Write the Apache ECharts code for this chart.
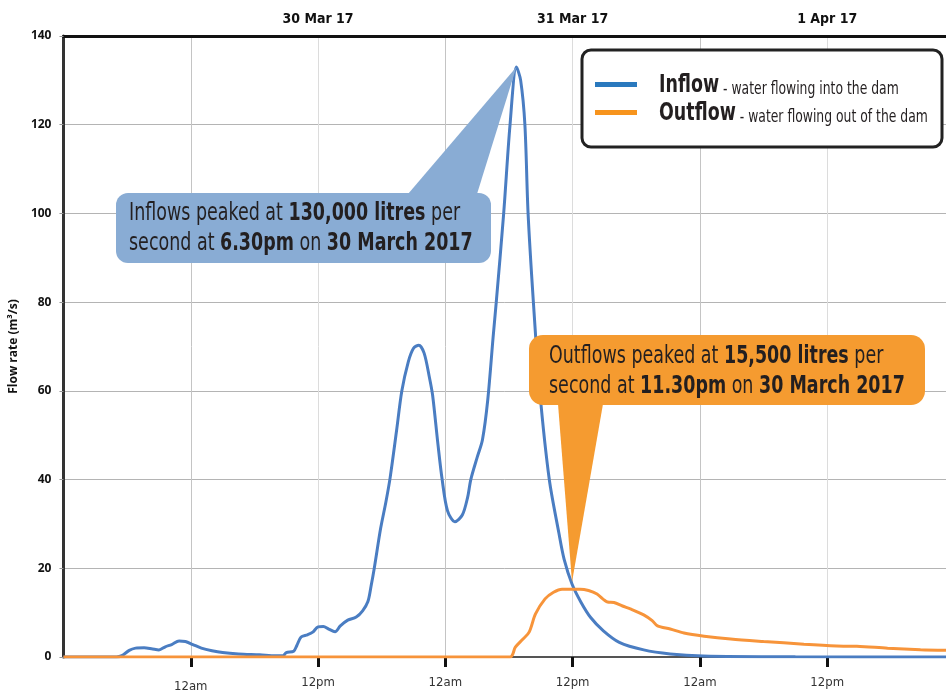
<!DOCTYPE html>
<html><head><meta charset="utf-8">
<script src="https://cdn.jsdelivr.net/npm/echarts@6/dist/echarts.min.js"></script>
<style>html,body{margin:0;padding:0;background:#fff}#c{width:946px;height:693px}</style>
</head><body><div id="c"></div>
<script>
// hours from 12pm 28 Mar (left edge of the chart)
const inflowHours = [0,5.0,5.5,6.2,6.8,7.6,8.4,9.0,9.6,10.2,10.9,11.5,12.2,13.0,14.0,15.0,16.5,18.5,20.0,20.7,21.0,21.7,22.0,22.4,23.0,23.5,24.0,24.5,25.0,25.6,26.1,26.8,27.6,28.2,28.7,29.0,29.3,29.9,30.4,30.8,31.4,31.9,32.5,33.0,33.5,34.0,34.5,34.8,35.3,35.7,36.2,36.9,37.6,38.1,38.4,39.0,39.5,40.0,40.5,40.8,41.5,42.1,42.7,43.1,43.5,43.8,44.3,44.9,45.8,46.7,47.2,47.95,48.8,49.7,50.9,52.4,54.7,57.2,60.3,69.0,83.2];
const inflowValues = [0,0,0.3,1.5,2.0,2.1,1.8,1.6,2.3,2.8,3.6,3.5,2.8,2.0,1.4,1.0,0.7,0.5,0.3,0.3,1.0,1.3,2.6,4.5,5.0,5.6,6.8,6.9,6.3,5.7,7.0,8.3,9.0,10.4,12.5,16,20,29,35,40.5,51,60,66.5,69.6,70.3,68.5,63,59,48,40,33,30.5,32,36,40,45,49,58,72,80,100,120,133,130,120,100,80,60,40,28,22,16.4,12.3,8.9,5.9,3.3,1.6,0.7,0.25,0.05,0];
const outflowHours = [0,42.1,42.6,43.3,43.9,44.5,45.4,46.2,47.0,48.7,49.5,50.3,51.3,51.9,52.7,53.5,54.7,55.5,56.0,57.2,58.5,60.4,62.9,66.0,69.8,72.9,74.8,77.7,80.8,83.2];
const outflowValues = [0,0,2.2,4.0,5.6,9.7,13.1,14.6,15.3,15.3,15.0,14.2,12.4,12.3,11.5,10.8,9.5,8.2,7.0,6.3,5.4,4.7,4.05,3.5,2.9,2.5,2.4,2.0,1.65,1.5];
const bottomTickValues = [12,24,36,48,60,72];
const bottomTickLabels = ['12am','12pm','12am','12pm','12am','12pm'];
const topTickValues = [24,48,72];
const topTickLabels = ['30 Mar 17','31 Mar 17','1 Apr 17'];
const seriesNames = ['Inflow','Outflow'];
const legendDescriptions = [' - water flowing into the dam',' - water flowing out of the dam'];

const NARROW = "'DejaVu Sans Condensed','Liberation Sans Narrow',sans-serif";
const XMAX = 83.2;
const chart = echarts.init(document.getElementById('c'), null, {renderer:'canvas'});
const zip = (a,b)=>a.map((h,i)=>[h,b[i]]);

chart.setOption({
  animation:false,
  backgroundColor:'#fff',
  grid:{left:63, top:36, right:0, bottom:35, containLabel:false},
  xAxis:[
    {type:'value', position:'bottom', min:0, max:XMAX, interval:12,
     axisLine:{show:true, onZero:false, lineStyle:{color:'#555', width:2}},
     axisTick:{show:false}, axisLabel:{show:false},
     splitLine:{show:true, lineStyle:{color:['#dcdcdc','#c4c4c4'], width:1}}},
    {type:'value', position:'bottom', offset:3, min:0, max:XMAX, interval:12,
     axisLine:{show:false},
     axisTick:{show:true, length:10, customValues:bottomTickValues, lineStyle:{color:'#111', width:3}},
     axisLabel:{customValues:bottomTickValues, margin:16, color:'#333', fontFamily:NARROW, fontSize:13,
       formatter:(v)=>{const i=bottomTickValues.indexOf(v); if(i<0) return ''; return i===0?'{low|'+bottomTickLabels[i]+'}':bottomTickLabels[i];},
       rich:{low:{padding:[4,0,0,0], color:'#333', fontFamily:NARROW, fontSize:13}}},
     splitLine:{show:false}},
    {type:'value', position:'top', min:0, max:XMAX, interval:24,
     axisLine:{show:true, onZero:false, lineStyle:{color:'#111', width:3}},
     axisTick:{show:false},
     axisLabel:{customValues:topTickValues, margin:10, color:'#111', fontFamily:NARROW, fontWeight:'bold', fontSize:14,
       formatter:(v)=>{const i=topTickValues.indexOf(v); return i<0?'':topTickLabels[i];}},
     splitLine:{show:false}}
  ],
  yAxis:{type:'value', min:0, max:140, interval:20,
    axisLine:{show:true, onZero:false, lineStyle:{color:'#333', width:3}},
    axisTick:{show:true, length:4, lineStyle:{color:'#999'}},
    axisLabel:{margin:12, fontWeight:'bold', fontSize:12, color:'#111', fontFamily:"'Open Sans',sans-serif"},
    splitLine:{show:true, lineStyle:{color:'#b4b4b4', width:1}},
    name:'Flow rate (m³/s)', nameLocation:'middle', nameGap:43, nameRotate:90,
    nameTextStyle:{fontWeight:'bold', fontSize:12, fontFamily:"'Open Sans',sans-serif", color:'#111'}
  },
  series:[
    {name:seriesNames[0], type:'line', xAxisIndex:0, data:zip(inflowHours,inflowValues), smooth:0.3, symbol:'none',
     lineStyle:{color:'#4a7dc2', width:3}, itemStyle:{color:'#4a7dc2'}, z:3},
    {name:seriesNames[1], type:'line', xAxisIndex:0, data:zip(outflowHours,outflowValues), smooth:0.3, symbol:'none',
     lineStyle:{color:'#f7943a', width:3}, itemStyle:{color:'#f7943a'}, z:4}
  ]
});

const pk = inflowValues.indexOf(Math.max(...inflowValues));
const apex = chart.convertToPixel({xAxisIndex:0, yAxisIndex:0}, [inflowHours[pk], inflowValues[pk]]);
const BLUE = '#89acd4', ORANGE = '#f59b30', TXT = '#231f20';
const richStyle = (sz)=>({
  r:{fontFamily:NARROW, fontSize:sz, lineHeight:30, fill:TXT},
  b:{fontFamily:NARROW, fontSize:sz, lineHeight:30, fontWeight:'bold', fill:TXT}
});
const legendRich = {
  b:{fontFamily:NARROW, fontWeight:'bold', fontSize:24, lineHeight:24, fill:TXT, verticalAlign:'bottom'},
  s:{fontFamily:NARROW, fontSize:17, lineHeight:17, fill:TXT, verticalAlign:'bottom'}
};
const legendColors = ['#2a79be','#f7941d'];
const legendEls = [
  {type:'rect', z:110, shape:{x:582,y:50,width:360,height:97,r:9}, style:{fill:'#fff', stroke:'#222', lineWidth:3}}
];
seriesNames.forEach((n,i)=>{
  const y = 84.5 + i*28;
  legendEls.push({type:'line', z:111, shape:{x1:595,y1:y,x2:637,y2:y}, style:{stroke:legendColors[i], lineWidth:5}});
  legendEls.push({type:'text', z:111, x:659, y:y+1.5, scaleX:0.81, scaleY:1,
    style:{text:'{b|'+n+'}{s|'+legendDescriptions[i]+'}', rich:legendRich, verticalAlign:'middle', align:'left'}});
});
chart.setOption({graphic:[
  {type:'polygon', z:100, shape:{points:[[408,194],[477,194],apex]}, style:{fill:BLUE}},
  {type:'rect', z:100, shape:{x:116,y:193,width:375,height:70,r:12}, style:{fill:BLUE}},
  {type:'text', z:101, x:129, y:229, scaleX:0.81, scaleY:1, style:{text:'{r|Inflows peaked at }{b|130,000 litres}{r| per}\n{r|second at }{b|6.30pm}{r| on }{b|30 March 2017}', rich:richStyle(24), verticalAlign:'middle', align:'left'}},
  {type:'polygon', z:100, shape:{points:[[558,404],[603,404],[572,582]]}, style:{fill:ORANGE}},
  {type:'rect', z:100, shape:{x:529,y:335,width:396,height:70,r:14}, style:{fill:ORANGE}},
  {type:'text', z:101, x:549, y:372, scaleX:0.81, scaleY:1, style:{text:'{r|Outflows peaked at }{b|15,500 litres}{r| per}\n{r|second at }{b|11.30pm}{r| on }{b|30 March 2017}', rich:richStyle(24), verticalAlign:'middle', align:'left'}}
].concat(legendEls)});
</script></body></html>
